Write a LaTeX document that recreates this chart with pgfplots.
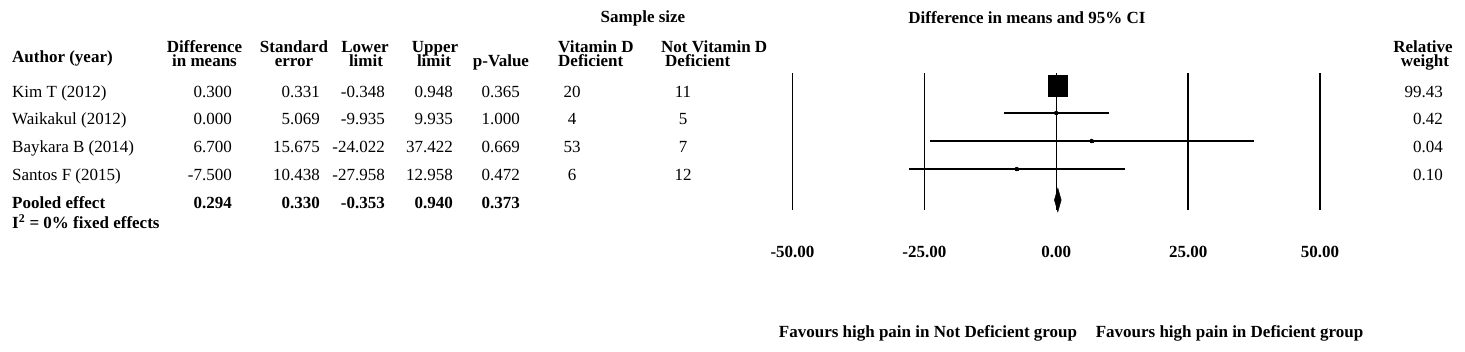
\documentclass[border=0pt]{standalone}
\usepackage{fontspec}
\setmainfont{Liberation Serif}
\usepackage{pgfplots}
\pgfplotsset{compat=1.18}
\usepackage{pgfplotstable}

% y = negative pixel row of each study line
\pgfplotstableread{
y est lo hi
-85.5 0.300 -0.348 0.948
-113 0.000 -9.935 9.935
-141 6.700 -24.022 37.422
-169 -7.500 -27.958 12.958
}\studies

\begin{document}
\begin{tikzpicture}
\path[use as bounding box] (0,0) rectangle (1465bp,-352bp);
\begin{axis}[
  at={(792.5bp,-210bp)}, anchor=south west,
  scale only axis, width=527.5bp, height=137bp,
  xmin=-50, xmax=50, ymin=-210, ymax=-73,
  clip=false,
  axis line style={draw=none},
  xtick={-50,-25,0,25,50},
  xticklabels={-50.00,-25.00,0.00,25.00,50.00},
  ytick=\empty,
  major tick length=0pt,
  xmajorgrids,
  major grid style={black, line width=1.3bp},
  /pgf/number format/assume math mode=true,
  xticklabel style={anchor=base, inner sep=0pt, yshift=-47bp,
    font=\fontsize{17bp}{15bp}\selectfont\bfseries},
]
\addplot[only marks, mark=none,
  error bars/.cd, x dir=both, x explicit, error mark=none,
  error bar style={draw=black, line width=1.3bp}]
  table[x=est, y=y,
    x error plus expr=\thisrow{hi}-\thisrow{est},
    x error minus expr=\thisrow{est}-\thisrow{lo}] {\studies};
\addplot[only marks, mark=square*, mark size=10.5bp, mark options={xscale=0.9, fill=black, draw=black}]
  coordinates {(0.300,-85.5)};
\addplot[only marks, mark=square*, mark size=1.2bp, mark options={fill=black, draw=black}]
  coordinates {(0.000,-113) (6.700,-141) (-7.500,-169)};
\addplot[fill=black, draw=black] coordinates {(-0.353,-200) (0.294,-188) (0.940,-200) (0.294,-212)} -- cycle;
\end{axis}

\begin{scope}[x=1bp, y=-1bp, every node/.style={inner sep=0pt, font=\fontsize{17bp}{15bp}\selectfont}]
% top headers
\node[anchor=base, font=\fontsize{17bp}{15bp}\selectfont\bfseries] at (643,22) {Sample size};
\node[anchor=base, font=\fontsize{17bp}{15bp}\selectfont\bfseries] at (1027,23) {Difference in means and 95\% CI};
% column headers
\begin{scope}[every node/.append style={font=\fontsize{17bp}{15bp}\selectfont\bfseries}]
\node[anchor=base west] at (12,62) {Author (year)};
\node[anchor=base] at (204.5,52) {Difference};
\node[anchor=base] at (204.5,66.7) {in means};
\node[anchor=base] at (294,52) {Standard};
\node[anchor=base] at (294,66.7) {error};
\node[anchor=base] at (365,52) {Lower};
\node[anchor=base] at (366,66.7) {limit};
\node[anchor=base] at (435,52) {Upper};
\node[anchor=base] at (434,66.7) {limit};
\node[anchor=base] at (501,66.7) {p-Value};
\node[anchor=base west] at (558,52) {Vitamin D};
\node[anchor=base west] at (558,66.7) {Deficient};
\node[anchor=base west] at (661,52) {Not Vitamin D};
\node[anchor=base west] at (665,66.7) {Deficient};
\node[anchor=base] at (1423,52) {Relative};
\node[anchor=base] at (1425,66.7) {weight};
\end{scope}
% rows
\foreach \yy/\name/\dm/\se/\lo/\up/\p/\nd/\nn/\w in {
  97/Kim T (2012)/0.300/0.331/-0.348/0.948/0.365/20/11/99.43,
  124.5/Waikakul (2012)/0.000/5.069/-9.935/9.935/1.000/4/5/0.42,
  152/Baykara B (2014)/6.700/15.675/-24.022/37.422/0.669/53/7/0.04,
  180/Santos F (2015)/-7.500/10.438/-27.958/12.958/0.472/6/12/0.10}{
  \node[anchor=base west] at (12,\yy) {\name};
  \node[anchor=base east] at (232,\yy) {\dm};
  \node[anchor=base east] at (320,\yy) {\se};
  \node[anchor=base east] at (385,\yy) {\lo};
  \node[anchor=base east] at (453,\yy) {\up};
  \node[anchor=base east] at (520,\yy) {\p};
  \node[anchor=base] at (572,\yy) {\nd};
  \node[anchor=base] at (683,\yy) {\nn};
  \node[anchor=base east] at (1443,\yy) {\w};
}
\begin{scope}[every node/.append style={font=\fontsize{17bp}{15bp}\selectfont\bfseries}]
\node[anchor=base west] at (12,208.3) {Pooled effect};
\node[anchor=base east] at (232,208.3) {0.294};
\node[anchor=base east] at (320,208.3) {0.330};
\node[anchor=base east] at (385,208.3) {-0.353};
\node[anchor=base east] at (453,208.3) {0.940};
\node[anchor=base east] at (520,208.3) {0.373};
\node[anchor=base west] at (12,228.3) {I\textsuperscript{2} = 0\% fixed effects};
\node[anchor=base] at (928,337) {Favours high pain in Not Deficient group};
\node[anchor=base] at (1229.5,337) {Favours high pain in Deficient group};
\end{scope}
\end{scope}
\end{tikzpicture}
\end{document}
